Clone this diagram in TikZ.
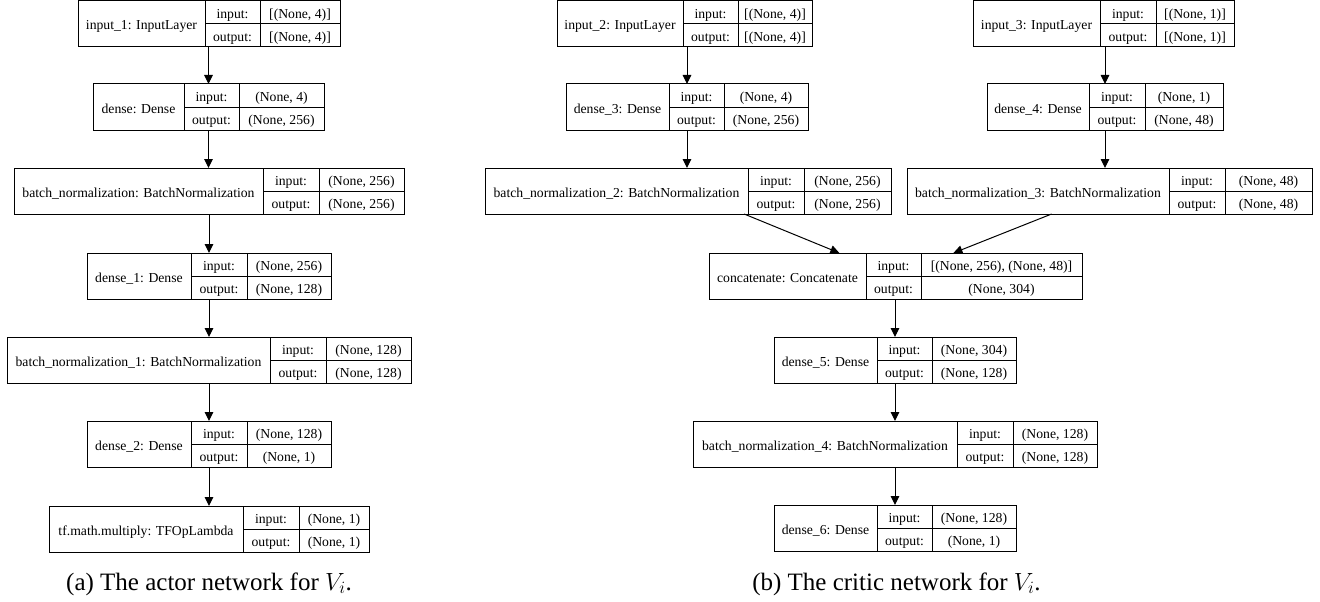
\documentclass[tikz,border=0pt]{standalone}
\usepackage{fontspec}
\setmainfont{Liberation Serif}
\newfontfamily\tmsfont{Liberation Serif}
\usetikzlibrary{arrows.meta,calc}
\tikzset{
 lbox/.style={draw=black, line width=1pt, inner sep=0pt, outer sep=0pt, rectangle, anchor=north west},
 lline/.style={draw=black, line width=1pt},
 txt/.style={inner sep=0pt, anchor=base, font=\tmsfont\fontsize{13.7}{16}\selectfont},
 arr/.style={draw=black, line width=1pt, -{Triangle[length=9pt,width=8.5pt]}},
 captext/.style={inner sep=0pt, anchor=base, font=\tmsfont\fontsize{25}{30}\selectfont},
}
\newcommand{\klayer}[9]{%
 \node[lbox, minimum width={#5pt-#2pt}, minimum height=46pt] (#1) at (#2,#6) {};
 \draw[lline] (#3,#6) -- (#3,{#6+46});
 \draw[lline] (#4,#6) -- (#4,{#6+46});
 \draw[lline] (#3,{#6+23}) -- (#5,{#6+23});
 \node[txt] (#1-n) at ({(#2+#3)/2},{#6+29}) {#7};
 \node[txt] (#1-ik) at ({(#3+#4)/2},{#6+17.5}) {input:};
 \node[txt] (#1-ok) at ({(#3+#4)/2},{#6+40.5}) {output:};
 \node[txt] (#1-iv) at ({(#4+#5)/2},{#6+17.5}) {#8};
 \node[txt] (#1-ov) at ({(#4+#5)/2},{#6+40.5}) {#9};
}
\begin{document}
\begin{tikzpicture}[x=1pt,y=-1pt]
\useasboundingbox[fill=white] (0,0) rectangle (1320,602);
% actor
\klayer{in1}{78}{205}{260}{340}{1}{input\_1: InputLayer}{[(None, 4)]}{[(None, 4)]}
\klayer{d0}{93}{184}{239}{324}{84}{dense: Dense}{(None, 4)}{(None, 256)}
\klayer{bn0}{14}{263}{319}{404}{168}{batch\_normalization: BatchNormalization}{(None, 256)}{(None, 256)}
\klayer{d1}{87}{191}{247}{331}{253}{dense\_1: Dense}{(None, 256)}{(None, 128)}
\klayer{bn1}{7}{270}{326}{411}{337}{batch\_normalization\_1: BatchNormalization}{(None, 128)}{(None, 128)}
\klayer{d2}{87}{191}{247}{331}{421}{dense\_2: Dense}{(None, 128)}{(None, 1)}
\klayer{tf}{49}{243}{299}{369}{506}{tf.math.multiply: TFOpLambda}{(None, 1)}{(None, 1)}
% critic
\klayer{in2}{557}{683}{738}{812}{1}{input\_2: InputLayer}{[(None, 4)]}{[(None, 4)]}
\klayer{d3}{566}{669}{724}{808}{84}{dense\_3: Dense}{(None, 4)}{(None, 256)}
\klayer{bn2}{485}{748}{804}{891}{168}{batch\_normalization\_2: BatchNormalization}{(None, 256)}{(None, 256)}
\klayer{in3}{973}{1100}{1156}{1234}{1}{input\_3: InputLayer}{[(None, 1)]}{[(None, 1)]}
\klayer{d4}{987}{1089}{1145}{1223}{84}{dense\_4: Dense}{(None, 1)}{(None, 48)}
\klayer{bn3}{907}{1169}{1225}{1312}{168}{batch\_normalization\_3: BatchNormalization}{(None, 48)}{(None, 48)}
\klayer{cc}{709}{866}{921}{1082}{253}{concatenate: Concatenate}{[(None, 256), (None, 48)]}{(None, 304)}
\klayer{d5}{774}{877}{932}{1016}{337}{dense\_5: Dense}{(None, 304)}{(None, 128)}
\klayer{bn4}{693}{957}{1013}{1097}{421}{batch\_normalization\_4: BatchNormalization}{(None, 128)}{(None, 128)}
\klayer{d6}{774}{877}{932}{1016}{505}{dense\_6: Dense}{(None, 128)}{(None, 1)}
% actor arrows
\draw[arr] (in1.south -| d0.north) -- (d0.north);
\draw[arr] (d0.south) -- (d0.south |- bn0.north);
\draw[arr] (bn0.south -| d1.north) -- (d1.north);
\draw[arr] (d1.south) -- (d1.south |- bn1.north);
\draw[arr] (bn1.south -| d2.north) -- (d2.north);
\draw[arr] (d2.south) -- (d2.south |- tf.north);
% critic arrows
\draw[arr] (in2.south -| d3.north) -- (d3.north);
\draw[arr] (d3.south) -- (d3.south |- bn2.north);
\draw[arr] (in3.south -| d4.north) -- (d4.north);
\draw[arr] (d4.south) -- (d4.south |- bn3.north);
\draw[arr] (bn2) -- (cc);
\draw[arr] (bn3) -- (cc);
\draw[arr] (cc.south -| d5.north) -- (d5.north);
\draw[arr] (d5.south) -- (d5.south |- bn4.north);
\draw[arr] (bn4.south -| d6.north) -- (d6.north);
% captions
\node[captext] (capa) at (209,590) {(a) The actor network for $V_i$.};
\node[captext] (capb) at (896.5,590) {(b) The critic network for $V_i$.};
\end{tikzpicture}
\end{document}
